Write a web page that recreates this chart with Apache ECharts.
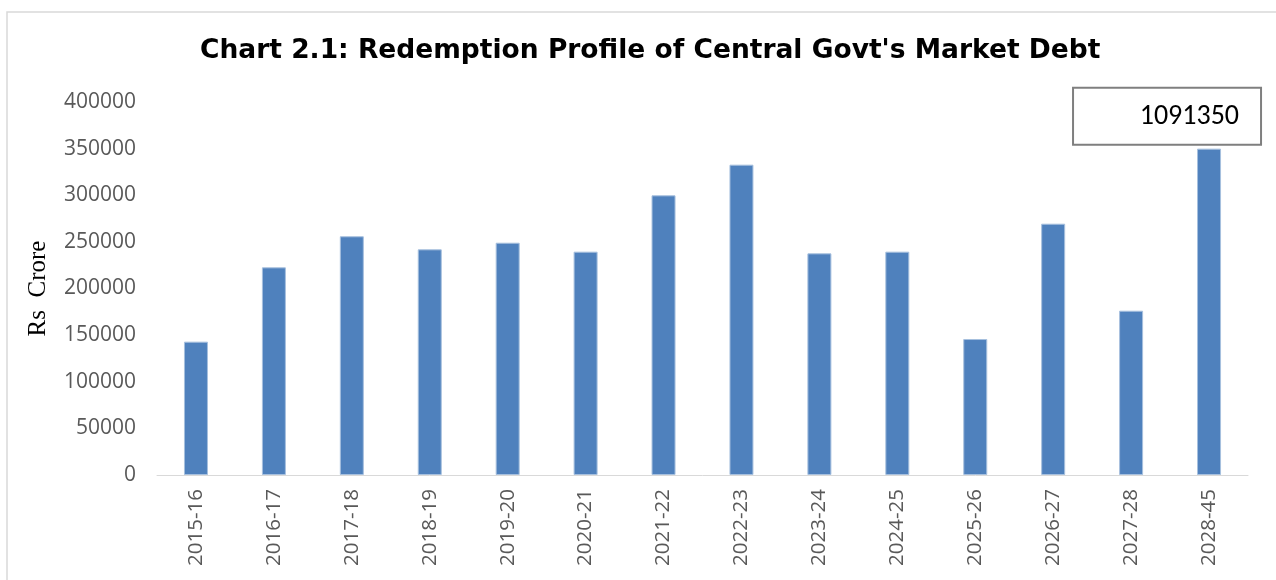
<!DOCTYPE html>
<html>
<head>
<meta charset="utf-8">
<script src="https://cdn.jsdelivr.net/npm/echarts@6/dist/echarts.min.js"></script>
<style>
  html, body { margin: 0; padding: 0; background: #fff; }
  #chart { width: 1276px; height: 580px; }
</style>
</head>
<body>
<div id="chart"></div>
<script>
// years of redemption
const years = ['2015-16', '2016-17', '2017-18', '2018-19', '2019-20', '2020-21', '2021-22',
  '2022-23', '2023-24', '2024-25', '2025-26', '2026-27', '2027-28', '2028-45'];
// redemption amount, Rs crore (last one is the full 2028-45 total)
const redemptions = [143000, 222700, 256000, 242000, 249100, 239500, 299900,
  332800, 237700, 239500, 145800, 269500, 176200, 1091350];
// y axis ticks
const yMin = 0;
const yMax = 400000;
const yStep = 50000;
// bars taller than this are cut off and the real value written in a box
const barCap = 350000;

const chart = echarts.init(document.getElementById('chart'));

const barData = redemptions.map((v) => {
  if (v <= barCap) return v;
  return {
    value: barCap,
    label: {
      show: true,
      position: 'top',
      formatter: () => String(v),
      color: '#000',
      fontFamily: 'Carlito, "Open Sans", sans-serif',
      fontSize: 28,
      lineHeight: 32,
      backgroundColor: '#fff',
      borderColor: '#7f7f7f',
      borderWidth: 2,
      width: 145,
      align: 'right',
      padding: [12, 21, 11, 20],
      offset: [51, 0]
    }
  };
});

const option = {
  animation: false,
  title: {
    text: "Chart 2.1: Redemption Profile of Central Govt's Market Debt",
    left: 195,
    top: 33,
    textStyle: {
      fontFamily: '"DejaVu Sans", sans-serif',
      fontWeight: 'bold',
      fontSize: 26.5,
      color: '#000'
    }
  },
  graphic: [{
    type: 'rect',
    shape: { x: 7, y: 12, width: 1280, height: 580 },
    style: { fill: 'none', stroke: '#d9d9d9', lineWidth: 1.5 },
    silent: true
  }],
  grid: { left: 157, right: 28, top: 102, bottom: 105 },
  xAxis: {
    type: 'category',
    data: years,
    axisLine: { lineStyle: { color: '#d9d9d9', width: 1 } },
    axisTick: { show: false },
    axisLabel: {
      rotate: 90,
      interval: 0,
      margin: 14,
      color: '#595959',
      fontFamily: '"Open Sans", sans-serif',
      fontSize: 20.5
    }
  },
  yAxis: {
    type: 'value',
    min: yMin,
    max: yMax,
    interval: yStep,
    name: 'Rs  Crore',
    nameLocation: 'middle',
    nameGap: 106,
    nameTextStyle: {
      fontFamily: '"Liberation Serif", serif',
      fontSize: 25,
      color: '#000'
    },
    axisLine: { show: false },
    axisTick: { show: false },
    splitLine: { show: false },
    axisLabel: {
      margin: 21,
      color: '#595959',
      fontFamily: '"Open Sans", sans-serif',
      fontSize: 21,
      formatter: (v) => String(v)
    }
  },
  series: [{
    type: 'bar',
    data: barData,
    barWidth: 24,
    itemStyle: {
      color: '#4f81bd',
      borderColor: '#a7c0de',
      borderWidth: 1
    }
  }]
};

chart.setOption(option);
</script>
</body>
</html>
